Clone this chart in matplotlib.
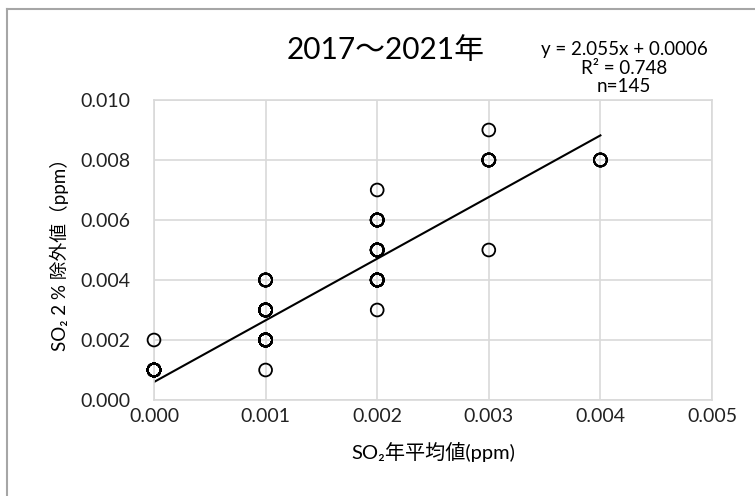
import numpy as np
import matplotlib.pyplot as plt
from matplotlib.lines import Line2D
from matplotlib.ticker import FormatStrFormatter

plt.rcParams['font.family'] = ['Lato', 'Noto Sans CJK JP', 'DejaVu Sans']

# annual mean SO2 vs 2% excluded value (ppm); counts = overlapping samples
x_vals = [0.000, 0.000, 0.001, 0.001, 0.001, 0.001, 0.002, 0.002, 0.002, 0.002, 0.002,
          0.003, 0.003, 0.003, 0.004]
y_vals = [0.002, 0.001, 0.004, 0.003, 0.002, 0.001, 0.007, 0.006, 0.005, 0.004, 0.003,
          0.009, 0.008, 0.005, 0.008]
counts = [1, 20, 8, 20, 30, 1, 1, 12, 15, 20, 1, 1, 8, 1, 6]

slope = 2.055
intercept = 0.0006
fit_range = [0.0, 0.004]
eq_lines = ['y = 2.055x + 0.0006', 'R² = 0.748', 'n=145']
title = '2017～2021年'
xlabel = 'SO₂年平均値(ppm)'
ylabel = 'SO₂ 2 % 除外値（ppm）'

xs = np.repeat(x_vals, counts)
ys = np.repeat(y_vals, counts)

fig = plt.figure(figsize=(7.55, 4.96), dpi=100)
ax = fig.add_axes([154 / 755, 1 - 400 / 496, 558 / 755, 300 / 496])

ax.scatter(xs, ys, s=85, facecolors='none', edgecolors='black', linewidths=1.3,
           zorder=3, clip_on=False)
fx = np.array(fit_range)
ax.plot(fx, slope * fx + intercept, color='black', lw=1.5, zorder=2)

ax.set_xlim(0, 0.005)
ax.set_ylim(0, 0.010)
ax.set_xticks(np.arange(0, 0.0051, 0.001))
ax.set_yticks(np.arange(0, 0.0101, 0.002))
ax.xaxis.set_major_formatter(FormatStrFormatter('%.3f'))
ax.yaxis.set_major_formatter(FormatStrFormatter('%.3f'))
ax.grid(True, color='#d9d9d9', lw=1.2)
ax.set_axisbelow(True)
for sp in ax.spines.values():
    sp.set_color('#d9d9d9')
    sp.set_linewidth(1.2)
ax.tick_params(length=0, labelsize=14, colors='#222222')
ax.tick_params(axis='y', pad=17)
ax.tick_params(axis='x', pad=6)

ax.set_xlabel(xlabel, fontsize=14.5, labelpad=12)
ax.set_ylabel(ylabel, fontsize=13.5, labelpad=8)

fig.text(386 / 755, 1 - 50 / 496, title, fontsize=21.5, ha='center', va='center')
for i, line in enumerate(eq_lines):
    fig.text(624 / 755, 1 - (50 + 18.5 * i) / 496, line, fontsize=13.5,
             ha='center', va='center')

# outer chart border (left and top only visible)
fig.add_artist(Line2D([7 / 755, 7 / 755], [0, 1 - 9 / 496], transform=fig.transFigure,
                      color='#a6a6a6', lw=1.5))
fig.add_artist(Line2D([7 / 755, 1], [1 - 9 / 496, 1 - 9 / 496], transform=fig.transFigure,
                      color='#a6a6a6', lw=1.5))

fig.savefig('out.png', dpi=100)
